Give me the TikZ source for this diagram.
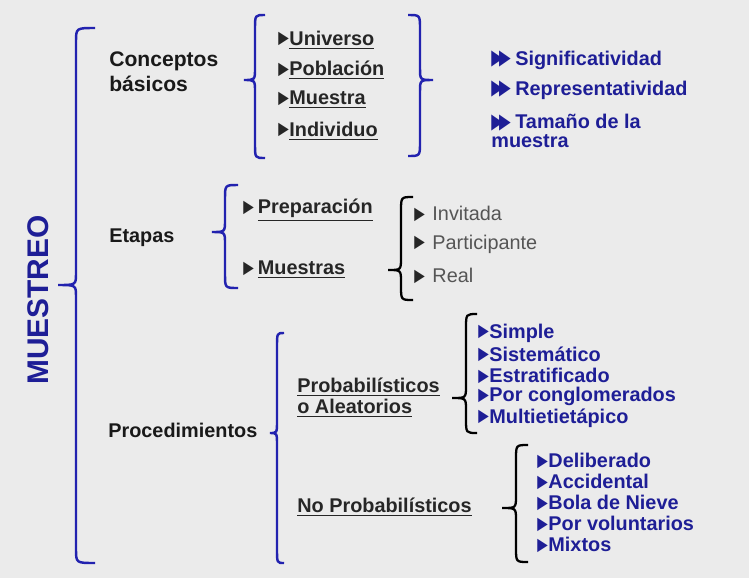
\documentclass[tikz,border=0pt]{standalone}
\usepackage{fontspec}
\setmainfont{Liberation Sans}
\newfontfamily\symfont{DejaVu Sans}
\definecolor{brblue}{RGB}{34,34,175}
\definecolor{txblue}{RGB}{30,30,150}
\definecolor{bggray}{RGB}{235,235,235}
\definecolor{itgray}{RGB}{85,85,85}
\newcommand\tri{\raisebox{0.8pt}{\scalebox{0.78}[1]{\symfont\fontsize{10}{10}\selectfont ▶}}\kern0.3pt}
\newcommand\dtri{\raisebox{0.2pt}{\scalebox{0.72}[1]{\symfont\fontsize{12}{12}\selectfont ▶\kern-3pt▶}}\kern2.5pt}
% brace: style, end x, line x, tip x, top y, tip y, bottom y
\newcommand\curly[7]{\draw[#1] (#2,#5) .. controls (#3,#5) .. (#3,{#5+14})
  -- (#3,{#6-12}) .. controls (#3,#6) .. (#4,#6) .. controls (#3,#6) .. (#3,{#6+12})
  -- (#3,{#7-14}) .. controls (#3,#7) .. (#2,#7);}
\begin{document}
\begin{tikzpicture}[x=0.02cm,y=-0.02cm,
  every node/.style={inner sep=0pt,anchor=west},
  head/.style={font=\fontsize{11.3}{14}\selectfont\bfseries,text=black!90},
  item/.style={font=\fontsize{11.3}{13}\selectfont\bfseries,text=black!85},
  soft/.style={font=\fontsize{11.3}{13}\selectfont,text=itgray},
  blueitem/.style={font=\fontsize{11.3}{12}\selectfont\bfseries,text=txblue},
  bluebr/.style={draw=brblue,line width=1.4pt},
  blackbr/.style={draw=black,line width=1.3pt}]
  \fill[bggray] (0,0) rectangle (749,578);
  \useasboundingbox (0,0) rectangle (749,578);
  \node[rotate=90,anchor=center,text=txblue,font=\fontsize{17}{17}\selectfont\bfseries] (muestreo) at (38,300) {MUESTREO};
  \curly{bluebr}{95}{76}{58}{28}{285}{563}
  % conceptos
  \node[head,align=left,font=\fontsize{12}{14.2}\selectfont\bfseries] (concep) at (109,72) {Conceptos\\básicos};
  \curly{bluebr}{265}{255}{244}{15}{80}{158}
  \node[item] (univ) at (278,40) {\tri\underline{Universo}};
  \node[item] (pobl) at (278,70) {\tri\underline{Población}};
  \node[item] (muest) at (278,100) {\tri\underline{Muestra}};
  \node[item] (indiv) at (278,131) {\tri\underline{Individuo}};
  \curly{bluebr}{408}{420}{433}{15}{80}{156}
  \node[blueitem] (sig) at (491,60) {\dtri Significatividad};
  \node[blueitem] (repr) at (491,90) {\dtri Representatividad};
  \node[blueitem,align=left,font=\fontsize{11.3}{10.4}\selectfont\bfseries] (tam) at (491,131) {\dtri Tamaño de la\\muestra};
  % etapas
  \node[head] (etapas) at (109,238) {Etapas};
  \curly{bluebr}{238}{225}{212}{185}{232}{288}
  \node[item] (prep) at (243,210) {\tri\hspace{2pt}\underline{Preparación}};
  \node[item] (muestras) at (243,270) {\tri\hspace{2pt}\underline{Muestras}};
  \curly{blackbr}{413}{401}{388}{197}{270}{300}
  \node[soft] (invit) at (414,214) {\textcolor{black!85}{\tri}\hspace{4pt}Invitada};
  \node[soft] (partic) at (414,244) {\textcolor{black!85}{\tri}\hspace{4pt}Participante};
  \node[soft] (real) at (414,276) {\textcolor{black!85}{\tri}\hspace{4pt}Real};
  % procedimientos
  \node[head] (proc) at (108,430) {Procedimientos};
  \curly{bluebr}{284}{277}{270}{333}{433}{563}
  \node[item,align=left,font=\fontsize{11.3}{12}\selectfont\bfseries] (prob) at (297,398) {\underline{Probabilísticos}\\\underline{o Aleatorios}};
  \curly{blackbr}{477}{466}{452}{314}{398}{433}
  \foreach \t [count=\i] in {Simple,Sistemático,Estratificado,Por conglomerados,Multietietápico}
    \node[blueitem] (p\i) at (478,{312+21.2*\i}) {\tri\t};
  \node[item] (noprob) at (297,507) {\underline{No Probabilísticos}};
  \curly{blackbr}{528}{516}{502}{445}{508}{562}
  \foreach \t [count=\i] in {Deliberado,Accidental,Bola de Nieve,Por voluntarios,Mixtos}
    \node[blueitem] (n\i) at (537,{440+21*\i}) {\tri\t};
\end{tikzpicture}
\end{document}
